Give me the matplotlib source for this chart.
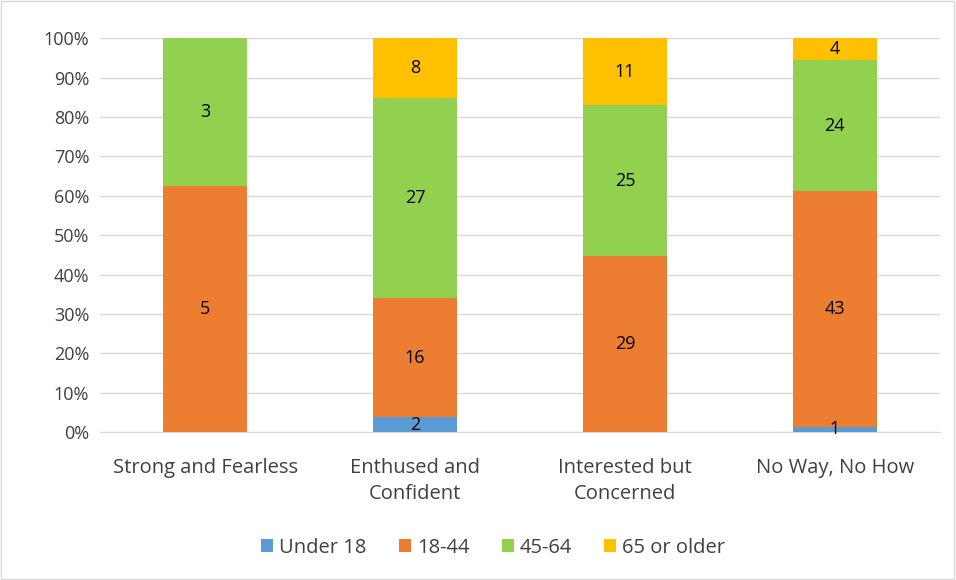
import numpy as np
import matplotlib.pyplot as plt

plt.rcParams['font.family'] = ['Open Sans', 'DejaVu Sans']

categories = ['Strong and Fearless', 'Enthused and\nConfident', 'Interested but\nConcerned', 'No Way, No How']
series = ['Under 18', '18-44', '45-64', '65 or older']
under18 = [0, 2, 0, 1]
age18_44 = [5, 16, 29, 43]
age45_64 = [3, 27, 25, 24]
over65 = [0, 8, 11, 4]
colors = ['#5B9BD5', '#ED7D31', '#92D050', '#FFC000']

counts = np.array([under18, age18_44, age45_64, over65], dtype=float)
totals = counts.sum(axis=0)
shares = counts / totals

fig = plt.figure(figsize=(9.56, 5.8), dpi=100)
ax = fig.add_axes([0.105, 0.255, 0.878, 0.679])
fig.patches.append(plt.Rectangle((0.001, 0.001), 0.997, 0.997, transform=fig.transFigure,
                                 fill=False, edgecolor='#D9D9D9', linewidth=1))

x = np.arange(len(categories))
bottom = np.zeros(len(categories))
for i, name in enumerate(series):
    ax.bar(x, shares[i], 0.4, bottom=bottom, color=colors[i], label=name, zorder=3)
    for j in range(len(categories)):
        if counts[i, j] > 0:
            ax.text(x[j], bottom[j] + shares[i, j] / 2, '%d' % counts[i, j],
                    ha='center', va='center', fontsize=13, color='#000000', zorder=4)
    bottom += shares[i]

ax.set_xlim(-0.5, len(categories) - 0.5)
ax.set_ylim(0, 1)
ax.set_yticks(np.arange(0, 1.01, 0.1))
ax.set_yticklabels(['%d%%' % round(v * 100) for v in np.arange(0, 1.01, 0.1)])
ax.set_xticks(x)
ax.set_xticklabels(categories, linespacing=1.35)
ax.tick_params(axis='y', length=0, labelsize=13, colors='#404040', pad=8)
ax.tick_params(axis='x', length=0, labelsize=14.5, colors='#404040', pad=19)
ax.grid(axis='y', color='#D9D9D9', linewidth=1, zorder=0)
for s in ['top', 'right', 'left']:
    ax.spines[s].set_visible(False)
ax.spines['bottom'].set_color('#D9D9D9')

ax.legend(loc='upper center', bbox_to_anchor=(0.468, -0.222), ncol=4, frameon=False,
          fontsize=14.5, handlelength=0.6, handleheight=0.6, handletextpad=0.3,
          columnspacing=1.6, labelcolor='#404040')

fig.savefig('out.png', dpi=100)
